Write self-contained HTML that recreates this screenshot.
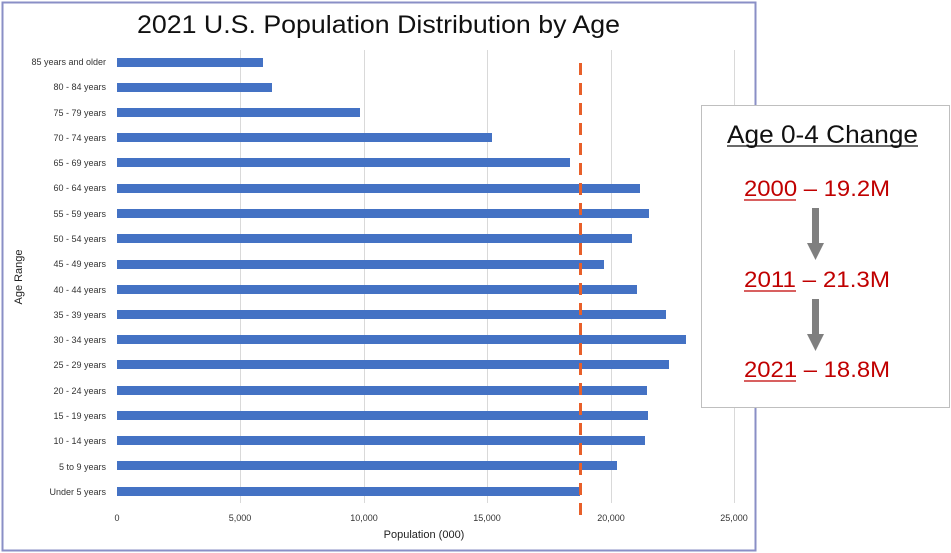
<!DOCTYPE html>
<html><head><meta charset="utf-8"><style>
html,body{margin:0;padding:0;background:#fff;}
svg{display:block;}
text{font-family:"Liberation Sans",sans-serif;}
</style></head><body>
<svg width="951" height="553" viewBox="0 0 951 553" xmlns="http://www.w3.org/2000/svg">
<rect x="2.5" y="2.5" width="753" height="548" fill="#fff" stroke="#8a8fc6" stroke-width="2"/>
<text x="137" y="33" font-size="25" fill="#111" textLength="483" lengthAdjust="spacingAndGlyphs">2021 U.S. Population Distribution by Age</text>
<g stroke="#d9d9d9" stroke-width="1">
<line x1="240.5" y1="50" x2="240.5" y2="503"/>
<line x1="364.5" y1="50" x2="364.5" y2="503"/>
<line x1="487.5" y1="50" x2="487.5" y2="503"/>
<line x1="611.5" y1="50" x2="611.5" y2="503"/>
<line x1="734.5" y1="50" x2="734.5" y2="503"/>
</g>
<g fill="#4472c4">
<rect x="117" y="58" width="146" height="9"/>
<rect x="117" y="83" width="155" height="9"/>
<rect x="117" y="108" width="243" height="9"/>
<rect x="117" y="133" width="375" height="9"/>
<rect x="117" y="158" width="453" height="9"/>
<rect x="117" y="184" width="523" height="9"/>
<rect x="117" y="209" width="532" height="9"/>
<rect x="117" y="234" width="515" height="9"/>
<rect x="117" y="260" width="487" height="9"/>
<rect x="117" y="285" width="520" height="9"/>
<rect x="117" y="310" width="549" height="9"/>
<rect x="117" y="335" width="569" height="9"/>
<rect x="117" y="360" width="552" height="9"/>
<rect x="117" y="386" width="530" height="9"/>
<rect x="117" y="411" width="531" height="9"/>
<rect x="117" y="436" width="528" height="9"/>
<rect x="117" y="461" width="500" height="9"/>
<rect x="117" y="487" width="463" height="9"/>
</g>
<line x1="580.5" y1="63" x2="580.5" y2="515" stroke="#e8602a" stroke-width="3" stroke-dasharray="12,8"/>
<g font-size="9" fill="#333" text-anchor="end">
<text x="106" y="65">85 years and older</text>
<text x="106" y="90">80 - 84 years</text>
<text x="106" y="116">75 - 79 years</text>
<text x="106" y="141">70 - 74 years</text>
<text x="106" y="166">65 - 69 years</text>
<text x="106" y="191">60 - 64 years</text>
<text x="106" y="217">55 - 59 years</text>
<text x="106" y="242">50 - 54 years</text>
<text x="106" y="267">45 - 49 years</text>
<text x="106" y="293">40 - 44 years</text>
<text x="106" y="318">35 - 39 years</text>
<text x="106" y="343">30 - 34 years</text>
<text x="106" y="368">25 - 29 years</text>
<text x="106" y="394">20 - 24 years</text>
<text x="106" y="419">15 - 19 years</text>
<text x="106" y="444">10 - 14 years</text>
<text x="106" y="470">5 to 9 years</text>
<text x="106" y="495">Under 5 years</text>
</g>
<g font-size="9" fill="#333" text-anchor="middle">
<text x="117" y="521">0</text>
<text x="240" y="521">5,000</text>
<text x="364" y="521">10,000</text>
<text x="487" y="521">15,000</text>
<text x="611" y="521">20,000</text>
<text x="734" y="521">25,000</text>
</g>
<text x="424" y="538" font-size="11" fill="#222" text-anchor="middle">Population (000)</text>
<text transform="translate(22,277) rotate(-90)" font-size="11" fill="#222" text-anchor="middle">Age Range</text>
<rect x="701.5" y="105.5" width="248" height="302" fill="#fff" stroke="#bfbfbf" stroke-width="1"/>
<text x="727" y="143" font-size="25" fill="#111" textLength="191" lengthAdjust="spacingAndGlyphs">Age 0-4 Change</text>
<line x1="727" y1="146" x2="918" y2="146" stroke="#111" stroke-width="1.3"/>
<g font-size="22" fill="#c00000">
<text x="744" y="196" textLength="146" lengthAdjust="spacingAndGlyphs">2000 – 19.2M</text>
<text x="744" y="287" textLength="146" lengthAdjust="spacingAndGlyphs">2011 – 21.3M</text>
<text x="744" y="377" textLength="146" lengthAdjust="spacingAndGlyphs">2021 – 18.8M</text>
</g>
<g stroke="#c00000" stroke-width="1.2">
<line x1="744" y1="200" x2="796" y2="200"/>
<line x1="744" y1="291" x2="796" y2="291"/>
<line x1="744" y1="381" x2="796" y2="381"/>
</g>
<g fill="#7f7f7f">
<rect x="812" y="208" width="7" height="36"/>
<polygon points="807,243 824,243 815.5,260"/>
<rect x="812" y="299" width="7" height="36"/>
<polygon points="807,334 824,334 815.5,351"/>
</g>
</svg>
</body></html>
